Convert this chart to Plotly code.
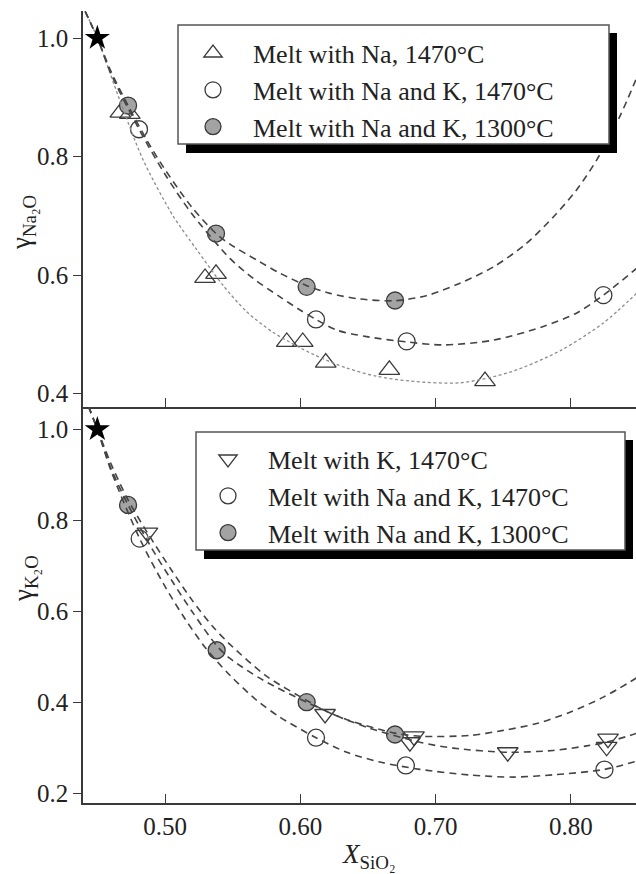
import plotly.graph_objects as go

# ---------------- data ----------------
# Pure-oxide reference point
star_x = [0.45]
star_y = [1.0]

# Upper panel: activity coefficient of Na2O
na_only_x = [0.467, 0.474, 0.5296, 0.5377, 0.590, 0.6018, 0.6188, 0.6658, 0.7365]
na_only_y = [0.874, 0.872, 0.595, 0.602, 0.487, 0.487, 0.452, 0.440, 0.421]
na_nak1470_x = [0.4808, 0.6116, 0.6786, 0.824]
na_nak1470_y = [0.846, 0.525, 0.488, 0.566]
na_nak1300_x = [0.4727, 0.5377, 0.6047, 0.670]
na_nak1300_y = [0.886, 0.670, 0.580, 0.557]

# Upper panel fitted curves
fit_na1300_x = [0.441, 0.45, 0.46, 0.4727, 0.487, 0.50, 0.52, 0.5377, 0.548, 0.568, 0.585,
                0.6047, 0.622, 0.644, 0.67, 0.693, 0.718, 0.743, 0.767, 0.787, 0.804, 0.819,
                0.836, 0.849]
fit_na1300_y = [1.045, 1.0, 0.944, 0.886, 0.826, 0.778, 0.714, 0.670, 0.652, 0.625, 0.603,
                0.582, 0.569, 0.5595, 0.5566, 0.565, 0.586, 0.614, 0.653, 0.698, 0.743, 0.794,
                0.867, 0.935]
fit_na1470_x = [0.441, 0.45, 0.46, 0.4808, 0.50, 0.52, 0.548, 0.5653, 0.585, 0.5998, 0.6116,
                0.6269, 0.649, 0.6786, 0.7057, 0.7426, 0.7796, 0.8043, 0.824, 0.849]
fit_na1470_y = [1.045, 1.0, 0.94, 0.846, 0.770, 0.703, 0.628, 0.594, 0.563, 0.541, 0.525,
                0.507, 0.496, 0.487, 0.482, 0.490, 0.513, 0.536, 0.566, 0.612]
fit_naonly_x = [0.442, 0.45, 0.465, 0.4837, 0.5059, 0.5234, 0.5431, 0.5604, 0.58, 0.6096,
                0.6343, 0.6565, 0.6811, 0.718, 0.755, 0.7919, 0.824, 0.849]
fit_naonly_y = [1.04, 1.0, 0.905, 0.795, 0.70, 0.643, 0.582, 0.538, 0.503, 0.466,
                0.443, 0.429, 0.421, 0.418, 0.436, 0.472, 0.519, 0.570]

# Lower panel: activity coefficient of K2O
k_only_x = [0.487, 0.6183, 0.681, 0.684, 0.7533, 0.8264, 0.8274]
k_only_y = [0.773, 0.375, 0.313, 0.326, 0.291, 0.303, 0.321]
k_nak1470_x = [0.4813, 0.6116, 0.678, 0.8248]
k_nak1470_y = [0.760, 0.323, 0.262, 0.253]
k_nak1300_x = [0.4727, 0.5382, 0.6047, 0.670]
k_nak1300_y = [0.834, 0.515, 0.401, 0.330]

# Lower panel fitted curves
fit_k1300_x = [0.4435, 0.45, 0.46, 0.4727, 0.49, 0.505, 0.52, 0.5382, 0.548, 0.5727, 0.6047,
               0.635, 0.67, 0.69, 0.7254, 0.75, 0.7747, 0.7993, 0.824, 0.849]
fit_k1300_y = [1.05, 1.0, 0.915, 0.834, 0.740, 0.668, 0.600, 0.525, 0.497, 0.449, 0.401,
               0.362, 0.333, 0.326, 0.328, 0.339, 0.354, 0.379, 0.412, 0.455]
fit_konly_x = [0.4435, 0.45, 0.46, 0.4727, 0.487, 0.505, 0.52, 0.535, 0.548, 0.575, 0.6047,
               0.6183, 0.65, 0.6883, 0.713, 0.7533, 0.787, 0.8117, 0.8264, 0.849]
fit_konly_y = [1.05, 1.0, 0.925, 0.845, 0.773, 0.690, 0.625, 0.568, 0.528, 0.458, 0.405,
               0.382, 0.345, 0.313, 0.300, 0.291, 0.295, 0.305, 0.313, 0.333]
fit_k1470_x = [0.4435, 0.45, 0.46, 0.4813, 0.50, 0.515, 0.53, 0.548, 0.5678, 0.585, 0.6116,
               0.6343, 0.6589, 0.6883, 0.7254, 0.7574, 0.787, 0.8248, 0.849]
fit_k1470_y = [1.05, 1.0, 0.910, 0.760, 0.655, 0.583, 0.520, 0.460, 0.405, 0.368, 0.323,
               0.291, 0.2695, 0.2535, 0.241, 0.2365, 0.2415, 0.2534, 0.272]

x_ticks = [0.50, 0.60, 0.70, 0.80]
x_ticktext = ["0.50", "0.60", "0.70", "0.80"]
y_top_ticks = [0.4, 0.6, 0.8, 1.0]
y_bot_ticks = [0.2, 0.4, 0.6, 0.8, 1.0]

legend_top_labels = ["Melt with Na, 1470°C", "Melt with Na and K, 1470°C",
                     "Melt with Na and K, 1300°C"]
legend_bot_labels = ["Melt with K, 1470°C", "Melt with Na and K, 1470°C",
                     "Melt with Na and K, 1300°C"]

# ---------------- styling ----------------
W, H = 636, 874
ML, MR, MT, MB = 83, 0, 11, 71
FONT = "Liberation Serif"
INK = "#222222"
AXIS = "#3a3a3a"
MARK_LINE = "#3a3a3a"
GRAY_FILL = "#a3a3a3"
DASH_COLOR = "#444444"
DOT_COLOR = "#8c8c8c"


def px_x(px):
    return (px - ML) / (W - ML - MR)


def px_y(py):
    return (H - MB - py) / (H - MT - MB)


fig = go.Figure()

marker_line = dict(color=MARK_LINE, width=1.3)


def add_points(x, y, xa, ya, symbol, name, legend, fill=None, size=17):
    fig.add_trace(go.Scatter(
        x=x, y=y, mode="markers", name=name, xaxis=xa, yaxis=ya, legend=legend,
        marker=dict(symbol=symbol, size=size,
                    color=fill if fill else MARK_LINE, line=marker_line),
        showlegend=True, cliponaxis=False))


def add_curve(x, y, xa, ya, color, dash, width):
    fig.add_trace(go.Scatter(
        x=x, y=y, mode="lines", xaxis=xa, yaxis=ya, showlegend=False,
        line=dict(color=color, dash=dash, width=width, shape="spline", smoothing=0.8),
        hoverinfo="skip"))


# upper panel markers
add_points(na_only_x, na_only_y, "x", "y", "triangle-up-open", legend_top_labels[0], "legend", size=18)
add_points(na_nak1470_x, na_nak1470_y, "x", "y", "circle-open", legend_top_labels[1], "legend")
add_points(na_nak1300_x, na_nak1300_y, "x", "y", "circle", legend_top_labels[2], "legend", fill=GRAY_FILL)

# lower panel markers
add_points(k_only_x, k_only_y, "x2", "y2", "triangle-down-open", legend_bot_labels[0], "legend2", size=18)
add_points(k_nak1470_x, k_nak1470_y, "x2", "y2", "circle-open", legend_bot_labels[1], "legend2")
add_points(k_nak1300_x, k_nak1300_y, "x2", "y2", "circle", legend_bot_labels[2], "legend2", fill=GRAY_FILL)

# fitted curves
add_curve(fit_naonly_x, fit_naonly_y, "x", "y", DOT_COLOR, "3px,2.5px", 1.3)
add_curve(fit_na1470_x, fit_na1470_y, "x", "y", DASH_COLOR, "7px,5px", 1.6)
add_curve(fit_na1300_x, fit_na1300_y, "x", "y", DASH_COLOR, "7px,5px", 1.6)
add_curve(fit_konly_x, fit_konly_y, "x2", "y2", DASH_COLOR, "7px,5px", 1.6)
add_curve(fit_k1470_x, fit_k1470_y, "x2", "y2", DASH_COLOR, "7px,5px", 1.6)
add_curve(fit_k1300_x, fit_k1300_y, "x2", "y2", DASH_COLOR, "7px,5px", 1.6)

# stars for the pure oxides
for xa, ya in (("x", "y"), ("x2", "y2")):
    fig.add_trace(go.Scatter(x=star_x, y=star_y, mode="markers", xaxis=xa, yaxis=ya,
                             showlegend=False, cliponaxis=False,
                             marker=dict(symbol="star", size=19, color="#000000",
                                         line=dict(width=0))))

tickfont = dict(family=FONT, size=25, color=INK)
x_common = dict(range=[0.4394, 0.8481], tickvals=x_ticks, ticktext=x_ticktext,
                ticks="inside", ticklen=9, tickwidth=1.3, tickcolor=AXIS,
                showline=True, linecolor=AXIS, linewidth=1.5, showgrid=False,
                zeroline=False, tickfont=tickfont)
y_common = dict(ticks="outside", ticklen=8, tickwidth=1.3, tickcolor=AXIS,
                showline=True, linecolor=AXIS, linewidth=1.5, showgrid=False,
                zeroline=False, tickfont=tickfont, tickformat=".1f")

legend_common = dict(font=dict(family=FONT, size=26, color=INK), bgcolor="rgba(0,0,0,0)",
                     borderwidth=0, itemwidth=70, xanchor="left", yanchor="top",
                     traceorder="normal", itemclick=False, itemdoubleclick=False)

# legend frames with a drop shadow
shapes = []
for (x0, y0, x1, y1) in ((178, 25, 609, 144), (196, 432, 625, 550)):
    shapes.append(dict(type="rect", xref="paper", yref="paper", layer="above",
                       x0=px_x(x0 + 8), x1=px_x(x1 + 8), y0=px_y(y1 + 9), y1=px_y(y0 + 8),
                       fillcolor="#000000", line=dict(width=0)))
    shapes.append(dict(type="rect", xref="paper", yref="paper", layer="above",
                       x0=px_x(x0), x1=px_x(x1), y0=px_y(y1), y1=px_y(y0),
                       fillcolor="#ffffff", line=dict(color="#555555", width=1.5)))

annotations = [
    dict(text="γ<sub>Na₂O</sub>", textangle=-90, xref="paper", yref="paper",
         x=px_x(23), y=px_y(223), xanchor="center", yanchor="middle", showarrow=False,
         font=dict(family=FONT, size=27, color=INK)),
    dict(text="γ<sub>K₂O</sub>", textangle=-90, xref="paper", yref="paper",
         x=px_x(25), y=px_y(579), xanchor="center", yanchor="middle", showarrow=False,
         font=dict(family=FONT, size=27, color=INK)),
    dict(text="<i>X</i><sub>SiO₂</sub>", xref="paper", yref="paper",
         x=px_x(368), y=px_y(856), xanchor="center", yanchor="middle", showarrow=False,
         font=dict(family=FONT, size=27, color=INK)),
]

fig.update_layout(
    width=W, height=H,
    margin=dict(l=ML, r=MR, t=MT, b=MB),
    paper_bgcolor="white", plot_bgcolor="white",
    showlegend=True,
    xaxis=dict(x_common, anchor="y", showticklabels=False),
    yaxis=dict(y_common, domain=[0.5, 1.0], range=[0.3772, 1.0456], tickvals=y_top_ticks,
               anchor="x"),
    xaxis2=dict(x_common, anchor="y2", matches="x"),
    yaxis2=dict(y_common, domain=[0.0, 0.5], range=[0.1796, 1.049], tickvals=y_bot_ticks,
                anchor="x2"),
    legend=dict(legend_common, x=px_x(173), y=px_y(29.6)),
    legend2=dict(legend_common, x=px_x(188), y=px_y(435.6)),
    shapes=shapes,
    annotations=annotations,
)

fig.write_html("out.html")
